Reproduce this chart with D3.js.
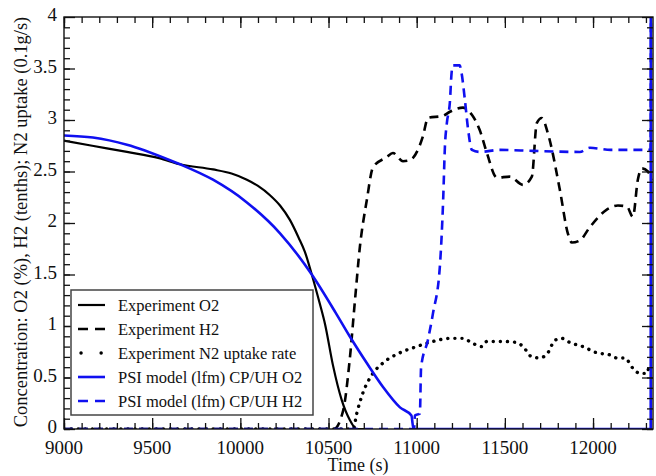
<!DOCTYPE html>
<html>
<head>
<meta charset="utf-8">
<script src="https://cdn.jsdelivr.net/npm/d3@7"></script>
<style>
	body { margin: 0; background: #fff; }
	text { font-family: "Liberation Serif", "Times New Roman", serif; fill: #111; }
</style>
</head>
<body>
<svg id="chart"></svg>
<script>
// time (s), value
let expO2 = [[9000, 2.80], [9160, 2.75], [9357, 2.69], [9540, 2.63], [9658, 2.57], [9845, 2.52],
	[9950, 2.48], [10037, 2.42], [10100, 2.36], [10168, 2.27], [10225, 2.17], [10281, 2.03],
	[10330, 1.86], [10366, 1.72], [10405, 1.50], [10450, 1.22], [10480, 1.02], [10525, 0.62],
	[10575, 0.28], [10620, 0.09], [10660, 0.0], [10750, 0.0]];

let expH2 = [[9000, 0], [10530, 0], [10583, 0.18], [10620, 0.67], [10650, 1.25], [10678, 1.77],
	[10717, 2.22], [10752, 2.54], [10830, 2.64], [10865, 2.68], [10922, 2.60], [10961, 2.61],
	[11035, 2.84], [11064, 3.02], [11148, 3.04], [11188, 3.08], [11262, 3.12], [11313, 3.05],
	[11358, 2.90], [11398, 2.68], [11455, 2.44], [11528, 2.45], [11603, 2.37], [11653, 2.45],
	[11681, 2.97], [11710, 3.02], [11744, 2.87], [11812, 2.32], [11857, 1.90], [11880, 1.81],
	[11925, 1.83], [11982, 1.96], [12078, 2.13], [12141, 2.17], [12192, 2.16], [12226, 2.06],
	[12254, 2.42], [12277, 2.53], [12311, 2.50], [12333, 2.42]];

let expN2 = [[9000, 0], [10640, 0], [10660, 0.15], [10695, 0.35], [10752, 0.54], [10808, 0.64],
	[10905, 0.74], [11000, 0.80], [11092, 0.85], [11188, 0.88], [11262, 0.88], [11319, 0.83],
	[11370, 0.80], [11398, 0.85], [11489, 0.85], [11568, 0.84], [11603, 0.80], [11653, 0.70],
	[11698, 0.69], [11744, 0.74], [11783, 0.86], [11823, 0.88], [11868, 0.84], [11942, 0.80],
	[12021, 0.74], [12095, 0.72], [12135, 0.69], [12180, 0.69], [12226, 0.59], [12265, 0.54],
	[12305, 0.54], [12316, 0.60]];

let psiO2 = [[9000, 2.85], [9164, 2.83], [9357, 2.76], [9601, 2.61], [9658, 2.57], [9845, 2.42],
	[10037, 2.20], [10225, 1.90], [10405, 1.50], [10540, 1.13], [10620, 0.90], [10717, 0.64],
	[10808, 0.41], [10905, 0.21], [10970, 0.13], [10982, 0.0], [12327, 0.0], [12330, 21]];

let psiH2 = [[9000, 0], [10985, 0], [10990, 0.13], [11018, 0.15], [11025, 0.60], [11063, 0.86],
	[11092, 1.12], [11131, 1.57], [11150, 2.22], [11160, 2.74], [11171, 2.97], [11188, 3.17],
	[11198, 3.46], [11205, 3.53], [11244, 3.53], [11254, 3.46], [11273, 3.20], [11290, 2.93],
	[11313, 2.71], [11358, 2.69], [11472, 2.71], [11660, 2.70], [11925, 2.69], [11982, 2.73],
	[12100, 2.71], [12305, 2.71], [12327, 2.71], [12330, 8]];

let xTicks = [9000, 9500, 10000, 10500, 11000, 11500, 12000];
let yTicks = [0, 0.5, 1, 1.5, 2, 2.5, 3, 3.5, 4];
let yTickLabels = ['0', '0.5', '1', '1.5', '2', '2.5', '3', '3.5', '4'];

let legendNames = ['Experiment O2', 'Experiment H2', 'Experiment N2 uptake rate',
	'PSI model (lfm) CP/UH O2', 'PSI model (lfm) CP/UH H2'];

function makeChart() {
	let w = 656;
	let h = 476;

	let chart = d3.select('#chart')
		.attr('width', w)
		.attr('height', h);

	let x = d3.scaleLinear().domain([9000, 12340]).range([64, 653]);
	let y = d3.scaleLinear().domain([0, 4]).range([429, 17]);

	chart.append('clipPath').attr('id', 'clip')
		.append('rect')
		.attr('x', 64).attr('y', 17)
		.attr('width', 592).attr('height', 412);

	let series = [
		{ data: expO2, color: '#000', dash: null, width: 2.2, cap: 'butt' },
		{ data: expH2, color: '#000', dash: '9,6', width: 2.6, cap: 'butt' },
		{ data: expN2, color: '#000', dash: '0.1,7', width: 3.4, cap: 'round' },
		{ data: psiO2, color: '#1010f0', dash: null, width: 2.6, cap: 'butt' },
		{ data: psiH2, color: '#1010f0', dash: '9,6', width: 2.6, cap: 'butt' }
	];

	let line = d3.line()
		.x(d => x(d[0]))
		.y(d => y(d[1]))
		.curve(d3.curveMonotoneX);

	//draw lines
	chart.append('g')
		.attr('clip-path', 'url(#clip)')
		.selectAll('path')
		.data(series)
		.enter()
		.append('path')
		.attr('d', d => line(d.data))
		.attr('fill', 'none')
		.attr('stroke', d => d.color)
		.attr('stroke-width', d => d.width)
		.attr('stroke-dasharray', d => d.dash)
		.attr('stroke-linecap', d => d.cap)
		.attr('stroke-linejoin', 'round');

	// ticks on all four sides, pointing inward
	let minorX = d3.range(9000, 12341, 100);
	let minorY = d3.range(0, 40).map(d => d / 10);

	chart.append('g').attr('transform', 'translate(0,429)')
		.call(d3.axisBottom(x).tickValues(minorX).tickSize(-6).tickFormat(''));
	chart.append('g').attr('transform', 'translate(0,429)')
		.call(d3.axisBottom(x).tickValues(xTicks).tickSize(-11).tickFormat(''));
	chart.append('g').attr('transform', 'translate(0,17)')
		.call(d3.axisTop(x).tickValues(minorX).tickSize(-6).tickFormat(''));
	chart.append('g').attr('transform', 'translate(0,17)')
		.call(d3.axisTop(x).tickValues(xTicks).tickSize(-11).tickFormat(''));
	chart.append('g').attr('transform', 'translate(64,0)')
		.call(d3.axisLeft(y).tickValues(minorY).tickSize(-6).tickFormat(''));
	chart.append('g').attr('transform', 'translate(64,0)')
		.call(d3.axisLeft(y).tickValues(yTicks).tickSize(-11).tickFormat(''));
	chart.append('g').attr('transform', 'translate(653,0)')
		.call(d3.axisRight(y).tickValues(minorY).tickSize(-6).tickFormat(''));
	chart.append('g').attr('transform', 'translate(653,0)')
		.call(d3.axisRight(y).tickValues(yTicks).tickSize(-11).tickFormat(''));

	chart.selectAll('.domain').remove();
	chart.selectAll('.tick line').attr('stroke', '#111').attr('stroke-width', 1.3);

	chart.append('rect')
		.attr('x', 64).attr('y', 17)
		.attr('width', 589).attr('height', 412)
		.attr('fill', 'none')
		.attr('stroke', '#111')
		.attr('stroke-width', 1.4);

	// tick labels
	chart.selectAll('.xlab')
		.data(xTicks)
		.enter()
		.append('text')
		.attr('x', d => x(d))
		.attr('y', 454)
		.style('text-anchor', 'middle')
		.style('font-size', '19px')
		.text(d => d);

	chart.selectAll('.ylab')
		.data(yTicks)
		.enter()
		.append('text')
		.attr('x', 57)
		.attr('y', d => y(d) + 4)
		.style('text-anchor', 'end')
		.style('font-size', '19px')
		.text((d, i) => yTickLabels[i]);

	chart.append('text')
		.attr('x', 358)
		.attr('y', 471)
		.style('text-anchor', 'middle')
		.style('font-size', '18px')
		.text('Time (s)');

	chart.append('text')
		.attr('transform', 'translate(27,222) rotate(-90)')
		.style('text-anchor', 'middle')
		.style('font-size', '18.5px')
		.text('Concentration: O2 (%), H2 (tenths); N2 uptake (0.1g/s)');

	// legend
	let legend = chart.append('g');
	legend.append('rect')
		.attr('x', 71).attr('y', 290)
		.attr('width', 242).attr('height', 125)
		.attr('fill', '#fff')
		.attr('stroke', '#444')
		.attr('stroke-width', 1.5);

	let rows = legend.selectAll('.row')
		.data(series)
		.enter()
		.append('g')
		.attr('transform', (d, i) => `translate(0, ${305 + i * 24})`);

	rows.append('line')
		.attr('x1', (d, i) => i == 2 ? 81 : 78)
		.attr('x2', 105)
		.attr('stroke', d => d.color)
		.attr('stroke-width', d => d.width)
		.attr('stroke-dasharray', (d, i) => i == 2 ? '0.1,20' : (d.dash ? '10,7' : null))
		.attr('stroke-linecap', d => d.cap);

	rows.append('text')
		.attr('x', 118)
		.attr('y', 5.5)
		.style('font-size', '16.5px')
		.text((d, i) => legendNames[i]);
}

window.onload = function () {
	makeChart();
}
</script>
</body>
</html>
